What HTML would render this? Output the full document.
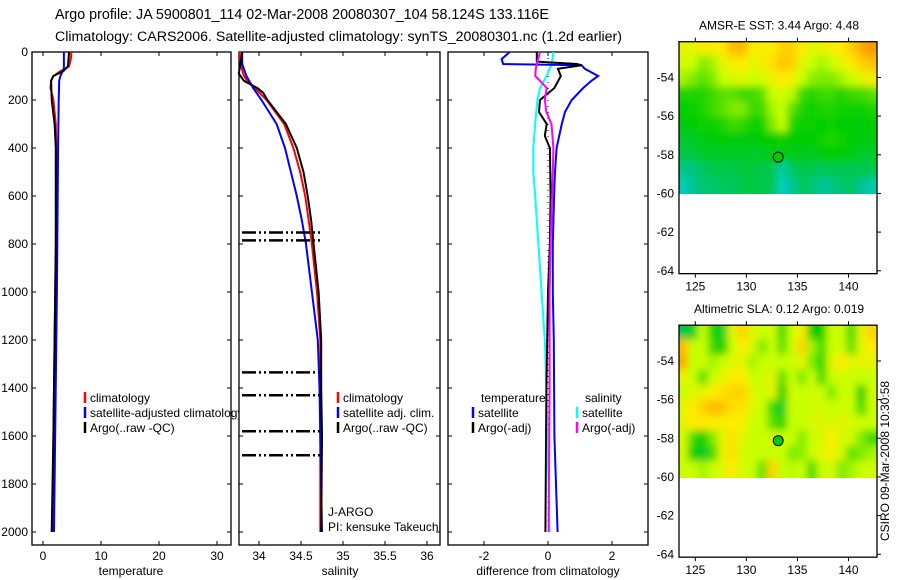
<!DOCTYPE html>
<html><head><meta charset="utf-8"><style>
html,body{margin:0;padding:0;background:#fff}
svg{display:block;font-family:"Liberation Sans",sans-serif}
</style></head><body>
<svg id="c" width="900" height="580" viewBox="0 0 900 580" xmlns="http://www.w3.org/2000/svg">
<defs>
<filter id="bl" x="-5%" y="-5%" width="110%" height="110%"><feGaussianBlur stdDeviation="4"/></filter>
<clipPath id="cm1"><rect x="679" y="42" width="198" height="152"/></clipPath>
<clipPath id="cm2"><rect x="679" y="325" width="198" height="153"/></clipPath>
</defs>
<text x="55" y="19" font-size="14.3">Argo profile: JA 5900801_114 02-Mar-2008 20080307_104 58.124S 133.116E</text>
<text x="55" y="41" font-size="14.2">Climatology: CARS2006. Satellite-adjusted climatology: synTS_20080301.nc (1.2d earlier)</text>
<g id="g"></g>
</svg>
<script>
// ---------- profile data ----------
const tDepthRed=[0,30,60,80,100,120,150,200,300,400,600,800,1000,1200,1400,1600,1800,2000];
const tRed=[4.9,4.8,4.5,3.0,1.8,1.4,1.3,1.8,2.2,2.3,2.3,2.2,2.1,2.0,1.9,1.8,1.7,1.6];
const tDepthBlack=[0,60,80,100,120,200,300,400,800,1200,1600,2000];
const tBlack=[4.5,4.3,3.5,1.8,1.4,1.5,2.0,2.2,2.2,2.0,1.8,1.5];
const tDepthBlue=[0,70,100,120,200,400,1000,2000];
const tBlue=[3.6,3.6,3.0,2.8,2.7,2.6,2.4,1.9];
const sDepth=[0,50,100,130,150,200,300,400,500,600,700,800,1000,1200,1400,1600,2000];
const sRed=[33.77,33.78,33.82,33.88,33.95,34.09,34.3,34.41,34.49,34.55,34.59,34.63,34.69,34.73,34.73,34.73,34.73];
const sBlue=[33.8,33.8,33.85,33.9,33.93,34.03,34.21,34.31,34.38,34.45,34.51,34.56,34.63,34.7,34.72,34.73,34.75];
const sDepthBlack=[0,50,90,120,150,170,200,300,400,500,600,700,800,1000,1200,1400,1600,2000];
const sBlack=[33.8,33.78,33.76,33.82,33.98,34.05,34.1,34.32,34.45,34.53,34.58,34.62,34.65,34.71,34.74,34.74,34.75,34.74];
const flagDepths=[752,785,1335,1430,1580,1680];
const dDepthBlue=[0,30,50,55,70,100,120,150,200,250,300,400,500,600,800,1000,1200,1600,2000];
const dBlue=[-1.2,-1.45,-1.4,1.05,1.15,1.57,1.36,1.1,0.74,0.53,0.43,0.27,0.22,0.19,0.15,0.15,0.18,0.2,0.3];
const dDepthBlack=[0,40,50,55,70,100,150,200,250,300,350,400,600,800,1000,1400,2000];
const dBlack=[-0.35,-0.35,0.9,1.05,0.31,0.4,0.2,-0.25,-0.28,-0.04,-0.1,0.06,0.08,0.06,0.0,-0.05,-0.08];
const dDepthMag=[0,50,70,100,120,150,200,250,300,400,600,800,1000,1400,2000];
const dMag=[-0.25,-0.35,-0.38,-0.4,-0.25,-0.04,-0.1,-0.05,0.11,0.17,0.13,0.08,0.05,0.05,0.02];
const dDepthCyan=[0,50,100,150,200,300,400,500,600,800,1000,1200,1400,2000];
const dCyan=[0.17,0.12,-0.04,-0.25,-0.33,-0.4,-0.46,-0.46,-0.4,-0.3,-0.2,-0.1,-0.05,0.05];
const depthTicks=[0,200,400,600,800,1000,1200,1400,1600,1800,2000];
const tTicks=[0,10,20,30];
const sTicks=[34,34.5,35,35.5,36];
const sTickLabels=["34","34.5","35","35.5","36"];
const dTicks=[-2,0,2];
// ---------- map data (rows top->bottom, lat -52.15..-60; cols lon 123.4..142.8) ----------
const sstRows=[
[0.75,0.75,0.78,0.78,0.8,0.9,0.9,0.8,0.78,0.8,0.85,0.85,0.8,0.75,0.75,0.78,0.8,0.85,0.92,0.95],
[0.72,0.7,0.6,0.65,0.75,0.78,0.8,0.75,0.78,0.82,0.88,0.85,0.75,0.7,0.65,0.7,0.75,0.8,0.85,0.88],
[0.65,0.6,0.55,0.6,0.7,0.72,0.75,0.7,0.72,0.78,0.8,0.78,0.7,0.62,0.6,0.6,0.65,0.7,0.75,0.78],
[0.45,0.45,0.45,0.5,0.55,0.55,0.5,0.5,0.55,0.7,0.72,0.68,0.5,0.45,0.5,0.5,0.45,0.5,0.5,0.55],
[0.4,0.42,0.45,0.5,0.55,0.6,0.6,0.5,0.5,0.65,0.7,0.55,0.45,0.42,0.45,0.45,0.42,0.42,0.42,0.45],
[0.38,0.4,0.42,0.42,0.45,0.5,0.48,0.42,0.42,0.6,0.7,0.45,0.42,0.42,0.4,0.42,0.4,0.4,0.38,0.4],
[0.35,0.35,0.38,0.38,0.4,0.38,0.38,0.38,0.4,0.4,0.42,0.4,0.4,0.4,0.42,0.45,0.42,0.4,0.38,0.38],
[0.3,0.32,0.35,0.35,0.35,0.35,0.35,0.35,0.35,0.38,0.38,0.36,0.36,0.36,0.38,0.4,0.4,0.38,0.35,0.35],
[0.22,0.22,0.28,0.3,0.3,0.3,0.32,0.32,0.3,0.3,0.15,0.28,0.3,0.3,0.28,0.3,0.3,0.28,0.3,0.3],
[0.12,0.2,0.25,0.25,0.28,0.28,0.3,0.32,0.3,0.3,0.1,0.2,0.28,0.25,0.2,0.22,0.25,0.28,0.2,0.15]];
const slaRows=[
[0.3,0.35,0.7,0.45,0.35,0.75,0.85,0.75,0.7,0.72,0.5,0.7,0.8,0.4,0.4,0.7,0.7,0.5,0.75,0.85],
[0.9,0.7,0.7,0.5,0.4,0.7,0.8,0.72,0.6,0.7,0.55,0.7,0.85,0.65,0.5,0.7,0.72,0.55,0.75,0.8],
[0.92,0.7,0.7,0.65,0.7,0.75,0.75,0.65,0.7,0.7,0.7,0.7,0.75,0.6,0.45,0.75,0.8,0.75,0.75,0.75],
[0.75,0.7,0.55,0.7,0.75,0.8,0.8,0.7,0.7,0.75,0.55,0.7,0.6,0.7,0.5,0.7,0.72,0.7,0.7,0.7],
[0.7,0.75,0.75,0.8,0.82,0.85,0.85,0.75,0.7,0.75,0.4,0.72,0.7,0.72,0.7,0.6,0.7,0.7,0.4,0.72],
[0.75,0.8,0.85,0.9,0.88,0.82,0.82,0.75,0.7,0.5,0.35,0.7,0.7,0.7,0.72,0.7,0.72,0.7,0.5,0.7],
[0.75,0.8,0.8,0.8,0.78,0.8,0.78,0.7,0.7,0.55,0.45,0.7,0.7,0.72,0.75,0.72,0.75,0.72,0.7,0.7],
[0.72,0.5,0.4,0.6,0.75,0.82,0.75,0.7,0.7,0.72,0.7,0.7,0.6,0.7,0.72,0.8,0.72,0.72,0.6,0.5],
[0.72,0.4,0.35,0.5,0.75,0.82,0.72,0.7,0.7,0.7,0.7,0.6,0.62,0.7,0.75,0.78,0.72,0.55,0.6,0.65],
[0.7,0.7,0.65,0.7,0.75,0.8,0.72,0.7,0.55,0.85,0.7,0.68,0.7,0.5,0.7,0.72,0.6,0.65,0.7,0.72]];
const latTicks=[-54,-56,-58,-60,-62,-64];
const lonTicks=[125,130,135,140];
const argoLon=133.116, argoLat=-58.124;

const NS="http://www.w3.org/2000/svg";
const G=document.getElementById('g');
function mk(tag,attrs,parent){const e=document.createElementNS(NS,tag);for(const k in attrs)e.setAttribute(k,attrs[k]);(parent||G).appendChild(e);return e;}
function txt(x,y,s,size,anchor,parent){const e=mk('text',{x:x,y:y,'font-size':size||12,'text-anchor':anchor||'start'},parent);e.textContent=s;return e;}

const yD=d=>52+0.24*d;
const PB=545;
function frame(x0,x1,name){
  const r=mk('rect',{x:x0,y:52,width:x1-x0,height:PB-52,fill:'#fff',stroke:'#000','stroke-width':1.3});
  
  
}
function xticks(x0,x1,ticks,labels,fx){
  ticks.forEach((t,i)=>{const x=fx(t);
    mk('line',{x1:x,x2:x,y1:52,y2:56,stroke:'#000'});
    mk('line',{x1:x,x2:x,y1:PB,y2:PB-4,stroke:'#000'});
    const l=txt(x,560,labels[i],12,'middle');
    
    
  });
}
function yticks(x0,x1,labels){
  depthTicks.forEach(d=>{const y=yD(d);
    mk('line',{x1:x0,x2:x0+4,y1:y,y2:y,stroke:'#000'});
    mk('line',{x1:x1,x2:x1-4,y1:y,y2:y,stroke:'#000'});
    if(labels){const l=txt(28,y+4,String(d),12,'end');
      
      }
  });
}
function line(depths,vals,fx,color,name,w){
  const pts=depths.map((d,i)=>fx(vals[i]).toFixed(1)+','+yD(d).toFixed(1)).join(' ');
  const p=mk('polyline',{points:pts,fill:'none',stroke:color,'stroke-width':w||2});
  
  
}
function legend(x,y,color,label,name){
  mk('line',{x1:x,x2:x,y1:y-10,y2:y+1,stroke:color,'stroke-width':2.5});
  const t=txt(x+5,y,label,12);
  
  
}

// Panel 1 temperature
const fT=v=>43+5.8*v;
frame(32,231,'temperature-panel');
yticks(32,231,true);
xticks(32,231,tTicks,tTicks.map(String),fT);
line(tDepthRed,tRed,fT,'#f00','temp-climatology-line');
line(tDepthBlue,tBlue,fT,'#00f','temp-satellite-line');
line(tDepthBlack,tBlack,fT,'#000','temp-argo-line');
legend(85,402,'#f00','climatology','legend-climatology');
legend(85,417,'#00f','satellite-adjusted climatology','legend-satellite-adjusted');
legend(85,432,'#000','Argo(..raw -QC)','legend-argo-raw');
let t1=txt(131,575,'temperature',12,'middle');

// Panel 2 salinity
const fS=v=>259+84*(v-34);
frame(239,440,'salinity-panel');
yticks(239,440,false);
xticks(239,440,sTicks,sTickLabels,fS);
line(sDepth,sRed,fS,'#f00','sal-climatology-line');
line(sDepth,sBlue,fS,'#00f','sal-satellite-line');
line(sDepthBlack,sBlack,fS,'#000','sal-argo-line');
flagDepths.forEach(d=>{
  const y=yD(d);
  const l=mk('line',{x1:242,x2:fS(34.73),y1:y,y2:y,stroke:'#000','stroke-width':2.5,'stroke-dasharray':'14,3,2,3,2,3'});
  
  
});
legend(338,402,'#f00','climatology','legend-sal-climatology');
legend(338,417,'#00f','satellite adj. clim.','legend-sal-satellite');
legend(338,432,'#000','Argo(..raw -QC)','legend-sal-argo');
let j1=txt(328,516,'J-ARGO',12);
let j2=txt(328,531,'PI: kensuke Takeuchi',12);
let t2=txt(340,575,'salinity',12,'middle');

// Panel 3 differences
const fD=v=>548+32*v;
frame(448,648,'difference-panel');
yticks(448,648,false);
xticks(448,648,dTicks,dTicks.map(String),fD);
mk('line',{x1:fD(0),x2:fD(0),y1:yD(0),y2:yD(2000),stroke:'#000','stroke-width':1,'stroke-dasharray':'1,5'});
line(dDepthCyan,dCyan,fD,'#0ff','diff-sal-satellite-line');
line(dDepthBlue,dBlue,fD,'#00f','diff-temp-satellite-line');
line(dDepthBlack,dBlack,fD,'#000','diff-temp-argo-line');
line(dDepthMag,dMag,fD,'#f0f','diff-sal-argo-line');
let lt=txt(481,402,'temperature',12);
let ls=txt(585,402,'salinity',12);
legend(473,417,'#00f','satellite','legend-diff-temp-satellite');
legend(473,432,'#000','Argo(-adj)','legend-diff-temp-argo');
legend(577,417,'#0ff','satellite','legend-diff-sal-satellite');
legend(577,432,'#f0f','Argo(-adj)','legend-diff-sal-argo');
let t3=txt(548,575,'difference from climatology',12,'middle');

// ---------- maps ----------
const stops=[[0,[0,225,225]],[0.2,[0,195,150]],[0.4,[0,205,0]],[0.55,[90,225,0]],[0.7,[200,255,0]],[0.8,[255,235,0]],[0.9,[255,185,0]],[1,[240,120,0]]];
function cmap(v){for(let i=1;i<stops.length;i++){if(v<=stops[i][0]){const a=stops[i-1],b=stops[i];const f=(v-a[0])/(b[0]-a[0]);return 'rgb('+a[1].map((c,k)=>Math.round(c+(b[1][k]-c)*f)).join(',')+')';}}return 'rgb(240,120,0)';}
function drawMap(top,rows,clip,title,name){
  const fx=lon=>679+(lon-123.4)*10.21;
  const fy=lat=>top+(-52.15-lat)*19.33;
  const nr=rows.length,nc=rows[0].length;
  const x0=fx(123.4),x1=fx(142.8),y0=fy(-52.15),y1=fy(-60);
  const cw=(x1-x0)/nc,ch=(y1-y0)/nr;
  const cg=mk('g',{'clip-path':'url(#'+clip+')'});
  
  
  const bg=mk('g',{filter:'url(#bl)'},cg);
  const pad=12;
  rows.forEach((row,r)=>row.forEach((v,c)=>{
    const xa=x0+c*cw-(c===0?pad:1), xb=x0+(c+1)*cw+(c===nc-1?pad:1);
    const ya=y0+r*ch-(r===0?pad:1), yb=y0+(r+1)*ch+(r===nr-1?pad:1);
    const cell=mk('rect',{x:xa,y:ya,width:xb-xa,height:yb-ya,fill:cmap(v)},bg);
    
    
  }));
  const fr=mk('rect',{x:679,y:fy(-52.15),width:198,height:fy(-64.15)-fy(-52.15),fill:'none',stroke:'#000','stroke-width':1.3});
  
  
  latTicks.forEach(l=>{const y=fy(l);
    mk('line',{x1:877,x2:881,y1:y,y2:y,stroke:'#000'});
    const t=txt(674,y+4,String(l),12,'end');
    
    });
  lonTicks.forEach(l=>{const x=fx(l);
    mk('line',{x1:x,x2:x,y1:y0,y2:y0-4,stroke:'#000'});
    mk('line',{x1:x,x2:x,y1:fy(-64.15),y2:fy(-64.15)+4,stroke:'#000'});
    const t=txt(x,fy(-64.15)+17,String(l),12,'middle');
    
    });
  const m=mk('circle',{cx:fx(argoLon),cy:fy(argoLat),r:5,fill:'#00cc00',stroke:'#000','stroke-width':1});
  
  
  const tt=txt(779,y0-12,title,12,'middle');
  
  
}
drawMap(41.7,sstRows,'cm1','AMSR-E SST: 3.44  Argo: 4.48','sst-map');
drawMap(325.2,slaRows,'cm2','Altimetric SLA: 0.12  Argo: 0.019','sla-map');
const cs=mk('text',{x:0,y:0,'font-size':12,'text-anchor':'middle',transform:'translate(889,461) rotate(-90)'});
cs.textContent='CSIRO 09-Mar-2008 10:30:58';


</script>
</body></html>
